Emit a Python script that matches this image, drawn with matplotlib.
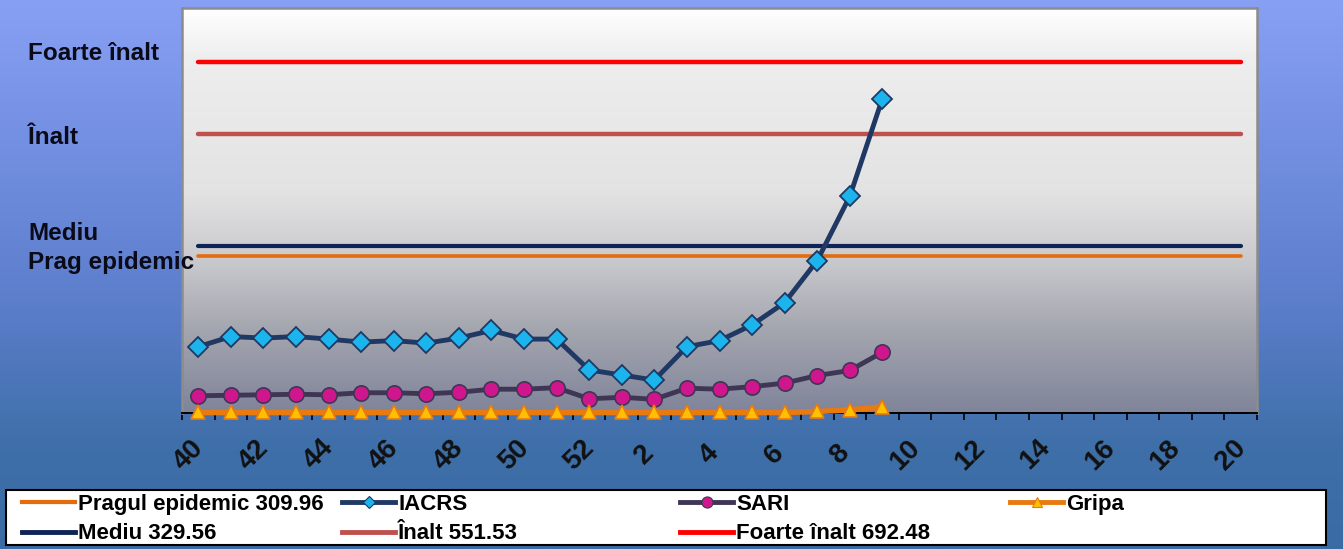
import numpy as np
import matplotlib
matplotlib.use('Agg')
import matplotlib.pyplot as plt
from matplotlib.colors import LinearSegmentedColormap
from matplotlib.lines import Line2D
from matplotlib.patches import Rectangle
from matplotlib.transforms import ScaledTranslation

plt.rcParams['font.family'] = ['Liberation Sans', 'DejaVu Sans']
plt.rcParams['font.weight'] = 'bold'

# saptamani (40..52, apoi 1..20)
weeks = list(range(40, 53)) + list(range(1, 21))
tick_labels = [str(w) for w in weeks[::2]]

# valori (saptamanile 40..9)
iacrs = [131, 151, 148, 151, 146, 140, 143, 138, 148, 163, 146, 146, 85,
         75, 65, 131, 143, 174, 218, 301, 428, 621]
sari = [34, 35, 36, 37, 36, 40, 40, 38, 41, 47, 47, 50, 28,
        31, 27, 49, 47, 52, 59, 74, 84, 120]
gripa = [1, 1, 1, 1, 1, 1, 1, 1, 1, 1, 1, 1, 1,
         1, 1, 1, 1, 1, 1, 3, 6, 12]

# praguri
prag = 309.96
mediu = 329.56
inalt = 551.53
foarte_inalt = 692.48

W, H = 1343, 549
fig = plt.figure(figsize=(W / 100, H / 100), dpi=100)

# fundal albastru in degrade
bg = fig.add_axes([0, 0, 1, 1], zorder=-10)
bg_cmap = LinearSegmentedColormap.from_list('bg', [(0, '#88A0F4'), (0.25, '#7490E2'), (0.55, '#5C7ECB'),
                                                   (0.82, '#3E6FA8'), (1.0, '#3A6BA5')])
bg.imshow(np.linspace(0, 1, 256).reshape(-1, 1), aspect='auto', cmap=bg_cmap, extent=(0, 1, 0, 1))
bg.axis('off')

ax = fig.add_axes([182 / W, (H - 413) / H, (1257 - 182) / W, (413 - 8) / H])
x = np.arange(len(weeks))
xlim = (-0.5, len(weeks) - 0.5)
ylim = (0, 800)

# zona graficului in degrade gri
pa_cmap = LinearSegmentedColormap.from_list('pa', [(0, '#FFFFFF'), (0.12, '#EEEEEE'), (0.45, '#E3E3E3'),
                                                   (0.62, '#CACACE'), (0.8, '#A3A5AE'), (1.0, '#80849A')])
ax.imshow(np.linspace(0, 1, 256).reshape(-1, 1), aspect='auto', cmap=pa_cmap,
          extent=(xlim[0], xlim[1], ylim[0], ylim[1]), zorder=0)

ax.plot(x, [foarte_inalt] * len(x), color='#FF0000', lw=3.2, solid_capstyle='round', zorder=2)
ax.plot(x, [inalt] * len(x), color='#C0504D', lw=3.2, solid_capstyle='round', zorder=2)
ax.plot(x, [mediu] * len(x), color='#0F2456', lw=3, solid_capstyle='round', zorder=2)
ax.plot(x, [prag] * len(x), color='#E46C0A', lw=2.6, solid_capstyle='round', zorder=2)

xs = x[:len(iacrs)]
ax.plot(xs, iacrs, color='#1F3864', lw=3.5, marker='D', markersize=10,
        markerfacecolor='#1CB4EC', markeredgecolor='#1F3864', markeredgewidth=1.3, zorder=4)
ax.plot(xs, sari, color='#3F3656', lw=3.5, marker='o', markersize=11,
        markerfacecolor='#D0168C', markeredgecolor='#3F3656', markeredgewidth=1.2, zorder=4)
ax.plot(xs, gripa, color='#E87A10', lw=4, marker='^', markersize=10,
        markerfacecolor='#FFC000', markeredgecolor='#E87A10', markeredgewidth=1.2, zorder=5, clip_on=False)

ax.set_xlim(*xlim)
ax.set_ylim(*ylim)
ax.set_yticks([])
ax.set_xticks(x[::2])
ax.set_xticklabels(tick_labels, rotation=45, ha='center', va='center', fontsize=20, fontweight='bold', color='#111111')
ax.set_xticks(np.arange(-0.5, len(weeks), 1), minor=True)
ax.tick_params(axis='x', which='major', length=0, pad=30)
ax.tick_params(axis='x', which='minor', length=5, width=1.2, color='black', direction='out')
offset = ScaledTranslation(-0.1, 0, fig.dpi_scale_trans)
for lab in ax.get_xticklabels():
    lab.set_transform(lab.get_transform() + offset)

for side in ['left', 'top', 'right']:
    ax.spines[side].set_color('#8C8C8C')
    ax.spines[side].set_linewidth(1.8)
ax.spines['bottom'].set_color('black')
ax.spines['bottom'].set_linewidth(1.4)

# etichete de nivel in stanga
for txt, yy in [('Foarte înalt', 53), ('Înalt', 137), ('Mediu', 234), ('Prag epidemic', 262)]:
    fig.text(28 / W, 1 - yy / H, txt, ha='left', va='center', fontsize=17.5, fontweight='bold', color='#0A0A18')

# legenda
fig.patches.append(Rectangle((6 / W, (H - 545) / H), 1320 / W, 55 / H, transform=fig.transFigure,
                             facecolor='white', edgecolor='black', lw=1.5, zorder=1))

h_prag = Line2D([], [], color='#E46C0A', lw=3)
h_mediu = Line2D([], [], color='#0F2456', lw=3.5)
h_iacrs = Line2D([], [], color='#1F3864', lw=3.5, marker='D', markersize=6,
                 markerfacecolor='#1CB4EC', markeredgecolor='#1F3864', markeredgewidth=0.8)
h_inalt = Line2D([], [], color='#C0504D', lw=3.5)
h_sari = Line2D([], [], color='#3F3656', lw=3.5, marker='o', markersize=8,
                markerfacecolor='#D0168C', markeredgecolor='#3F3656', markeredgewidth=0.8)
h_foarte = Line2D([], [], color='#FF0000', lw=3.5)
h_gripa = Line2D([], [], color='#E87A10', lw=3.5, marker='^', markersize=7,
                 markerfacecolor='#FFC000', markeredgecolor='#E87A10', markeredgewidth=0.8)

columns = [
    (22, [h_prag, h_mediu], ['Pragul epidemic 309.96', 'Mediu 329.56']),
    (342, [h_iacrs, h_inalt], ['IACRS', 'Înalt 551.53']),
    (680, [h_sari, h_foarte], ['SARI', 'Foarte înalt 692.48']),
    (1010, [h_gripa], ['Gripa']),
]
for xpix, handles, labels in columns:
    fig.legend(handles, labels, loc='upper left', bbox_to_anchor=(xpix / W, (H - 494) / H),
               frameon=False, borderpad=0, borderaxespad=0, handlelength=2.4, handletextpad=0.12,
               labelspacing=0.38, prop={'size': 16, 'weight': 'bold'})

fig.savefig('out.png', dpi=100)
